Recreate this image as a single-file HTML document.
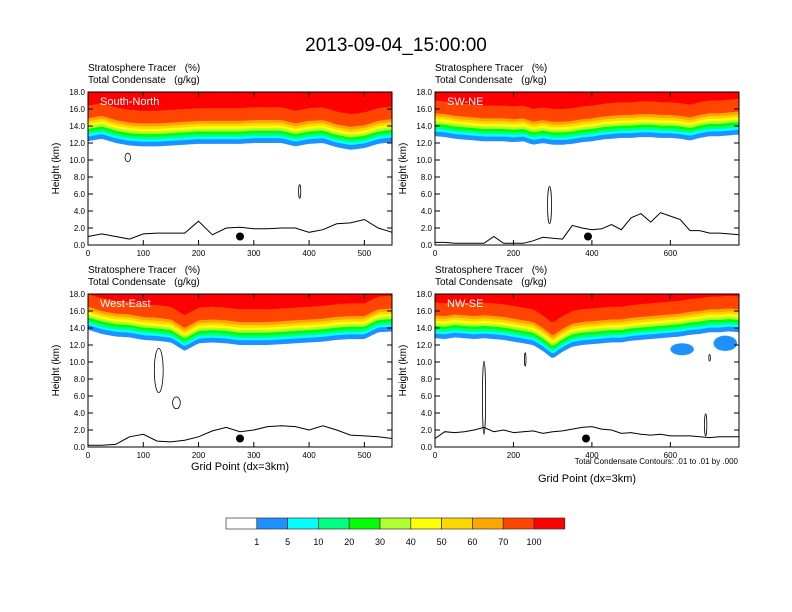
<!DOCTYPE html>
<html><head><meta charset="utf-8"><style>
body{margin:0;background:#fff;}
svg{display:block;font-family:"Liberation Sans",Arial,sans-serif;}
text{white-space:pre;}
</style></head><body>
<svg id="s" width="792" height="612" viewBox="0 0 792 612" xmlns="http://www.w3.org/2000/svg">
<text x="396" y="51" font-size="19" text-anchor="middle">2013-09-04_15:00:00</text>
</svg>
<script>
// ---- data ----
const panelNames=["South-North","SW-NE","West-East","NW-SE"];
const gridMax=[550,775,550,775];
const tpStep=25;
const tpTL=[12.2,12.5,12.0,11.7,11.6,11.6,11.7,11.8,11.9,11.9,11.9,11.9,12.0,12.0,12.0,11.6,11.9,12.0,11.5,11.2,11.4,11.9,12.1,12.2];
const tpTR=[12.8,12.7,12.5,12.4,12.3,12.2,12.2,12.2,12.1,12.2,11.8,12.0,11.8,11.8,11.9,12.1,12.2,12.4,12.5,12.6,12.6,12.7,12.7,12.6,12.6,12.5,12.3,12.6,12.8,12.8,12.9,13.0];
const tpBL=[13.8,13.3,13.0,12.9,12.6,12.5,12.3,11.3,12.2,12.3,12.2,12.0,12.0,12.0,12.1,12.2,12.3,12.4,12.6,12.7,12.7,13.5,13.6,13.6];
const tpBR=[12.8,12.7,12.9,12.8,12.7,12.8,12.7,12.6,12.4,12.2,12.0,11.3,10.4,11.2,11.8,12.0,12.1,12.2,12.3,12.3,12.5,12.6,12.7,12.8,12.9,13.0,13.2,13.3,13.5,13.5,13.6,13.5];
const terStep=25;
const terTL=[1.0,1.3,1.0,0.7,1.3,1.4,1.4,1.4,2.8,1.2,2.0,2.1,1.9,1.9,2.0,2.0,1.5,1.8,2.5,2.6,3.0,2.0,1.5];
const terTR=[0.3,0.3,0.2,0.2,0.2,0.2,1.0,0.2,0.2,0.2,0.5,0.9,0.8,0.7,2.3,2.0,1.8,1.9,2.4,1.8,3.2,3.7,2.7,3.8,3.4,3.0,1.7,1.7,1.4,1.4,1.3,1.2];
const terBL=[0.2,0.2,0.3,1.2,1.5,0.7,0.6,0.8,1.2,1.9,2.3,1.8,2.0,2.4,2.5,2.4,2.0,2.5,2.0,1.4,1.3,1.2,1.0];
const terBR=[1.0,1.8,1.7,1.8,2.0,2.3,1.8,2.0,1.7,1.8,1.9,1.6,1.8,1.9,2.1,2.3,2.4,2.1,2.0,1.6,1.7,1.5,1.4,1.5,1.3,1.3,1.3,1.2,1.1,1.2,1.2,1.2];
const dotX=[275,390,275,385];
const dotH=[1.0,1.0,1.0,1.0];
// condensate contours: panel, grid x, height, half-width(grid), half-height(km)
const cPanel=[0,0,1,2,2,3,3,3,3];
const cX=[72,383,292,128,160,125,230,700,690];
const cH=[10.3,6.3,4.7,9.0,5.2,5.8,10.3,10.5,2.6];
const cRX=[5,2,5,8,7,4,2,2,3];
const cRY=[0.5,0.8,2.2,2.6,0.7,4.3,0.8,0.4,1.3];
// detached blue cloud patches: panel, x, height, rx, ry
const bPanel=[3,3];
const bX=[630,740];
const bH=[11.5,12.2];
const bRX=[30,30];
const bRY=[0.7,0.9];
const xTicks=[[0,100,200,300,400,500],[0,200,400,600],[0,100,200,300,400,500],[0,200,400,600]];
const yTicks=[0,2,4,6,8,10,12,14,16,18];
const bandOffsets=[0,0.55,0.85,1.15,1.45,1.75,2.05,2.35,2.7,4.2];
const bandColors=["#1e90ff","#00ffff","#00ff80","#00ff00","#b0ff30","#ffff00","#ffd700","#ffa500","#ff4500","#ff0000"];
const cbLabels=["1","5","10","20","30","40","50","60","70","100"];
const cbColors=["#ffffff","#1e90ff","#00ffff","#00ff80","#00ff00","#b0ff30","#ffff00","#ffd700","#ffa500","#ff4500","#ff0000"];
// ---- drawing ----
const NS="http://www.w3.org/2000/svg",S=document.getElementById('s');
function el(t,a,p){const e=document.createElementNS(NS,t);for(const k in a)e.setAttribute(k,a[k]);(p||S).appendChild(e);return e;}
const boxes=[[88,92],[435,92],[88,294],[435,294]];
const W=304,H=153;
const tps=[tpTL,tpTR,tpBL,tpBR],ters=[terTL,terTR,terBL,terBR];
function interp(arr,step,g){const i=Math.min(arr.length-2,Math.floor(g/step));const f=g/step-i;return arr[i]+(arr[i+1]-arr[i])*Math.max(0,Math.min(1,f));}
boxes.forEach((b,p)=>{
  const g=el('g',{});
  
  
  const x0=b[0],y0=b[1],gm=gridMax[p];
  const sx=v=>x0+v/gm*W, sy=h=>y0+H-h/18*H;
  const t1=el('text',{x:x0,y:y0-21,'font-size':10},g);t1.textContent="Stratosphere Tracer   (%)";
  
  const t2=el('text',{x:x0,y:y0-9,'font-size':10},g);t2.textContent="Total Condensate   (g/kg)";
  
  const N=120;
  bandOffsets.forEach((off,k)=>{
    let pts=[];
    for(let i=0;i<=N;i++){const gv=gm*i/N;const h=Math.min(18,interp(tps[p],tpStep,gv)+off);pts.push(sx(gv).toFixed(1)+','+sy(h).toFixed(1));}
    pts.push(sx(gm)+','+sy(18));pts.push(sx(0)+','+sy(18));
    const poly=el('polygon',{points:pts.join(' '),fill:bandColors[k]},g);
    
    
  });
  bPanel.forEach((pp,i)=>{if(pp!==p)return;
    const e=el('ellipse',{cx:sx(bX[i]),cy:sy(bH[i]),rx:bRX[i]/gm*W,ry:bRY[i]/18*H,fill:'#1e90ff'},g);
    
  });
  cPanel.forEach((pp,i)=>{if(pp!==p)return;
    const e=el('ellipse',{cx:sx(cX[i]),cy:sy(cH[i]),rx:cRX[i]/gm*W,ry:cRY[i]/18*H,fill:'none',stroke:'#000','stroke-width':0.8},g);
    
  });
  let tp=[];
  const tn=ters[p].length;
  for(let i=0;i<tn;i++){const gv=Math.min(gm,i*terStep);tp.push(sx(gv).toFixed(1)+','+sy(ters[p][i]).toFixed(1));}
  const tl=el('polyline',{points:tp.join(' '),fill:'none',stroke:'#000','stroke-width':1},g);
  
  const d=el('circle',{cx:sx(dotX[p]),cy:sy(dotH[p]),r:4,fill:'#000'},g);
  
  const lb=el('text',{x:x0+12,y:y0+13,'font-size':11,fill:'#fff'},g);lb.textContent=panelNames[p];
  
  const fr=el('rect',{x:x0,y:y0,width:W,height:H,fill:'none',stroke:'#000','stroke-width':1},g);
  
  yTicks.forEach(v=>{
    el('line',{x1:x0,x2:x0+5,y1:sy(v),y2:sy(v),stroke:'#000'},g);
    el('line',{x1:x0+W,x2:x0+W-5,y1:sy(v),y2:sy(v),stroke:'#000'},g);
    const t=el('text',{x:x0-3,y:sy(v)+3,'font-size':8,'text-anchor':'end'},g);t.textContent=v.toFixed(1);
    
  });
  xTicks[p].forEach(v=>{
    el('line',{x1:sx(v),x2:sx(v),y1:y0+H,y2:y0+H-5,stroke:'#000'},g);
    el('line',{x1:sx(v),x2:sx(v),y1:y0,y2:y0+5,stroke:'#000'},g);
    const t=el('text',{x:sx(v),y:y0+H+11,'font-size':8,'text-anchor':'middle'},g);t.textContent=v;
    
  });
  const yt=el('text',{x:0,y:0,'font-size':10,'text-anchor':'middle',transform:`translate(${x0-29},${y0+H/2}) rotate(-90)`},g);
  yt.textContent="Height (km)";
  
});
function txt(x,y,s,t,a,name){const e=el('text',{x:x,y:y,'font-size':s,'text-anchor':a||'middle'});e.textContent=t;}
txt(240,470,11,"Grid Point (dx=3km)",'middle','x-axis-title-left');
txt(587,482,11,"Grid Point (dx=3km)",'middle','x-axis-title-right');
txt(738,464,8,"Total Condensate Contours: .01 to .01 by .000",'end','contour-note');
const cbX=226,cbW=30.8;
cbColors.forEach((c,i)=>{
  const r=el('rect',{x:cbX+i*cbW,y:518,width:cbW,height:11,fill:c,stroke:'#333','stroke-width':0.7});
  
});
cbLabels.forEach((l,i)=>txt(cbX+(i+1)*cbW,545,9,l,'middle','colorbar-label'));
</script>
</body></html>
